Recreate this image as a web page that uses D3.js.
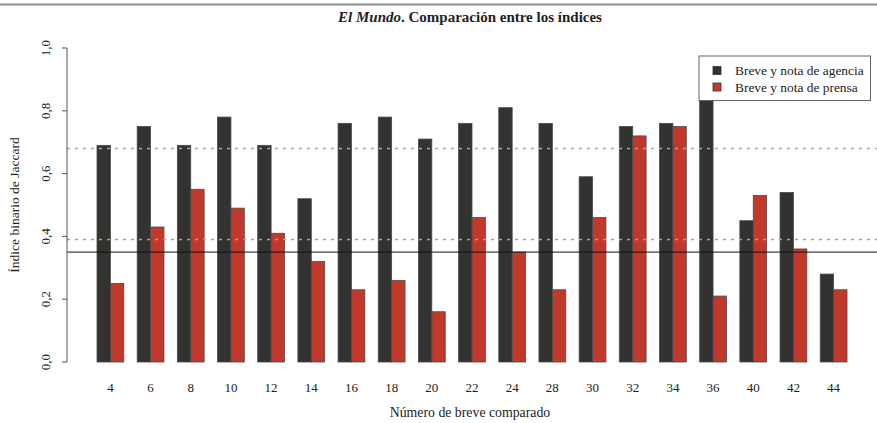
<!DOCTYPE html>
<html><head><meta charset="utf-8">
<script src="https://cdn.jsdelivr.net/npm/d3@7"></script>
<style>body{margin:0;background:#fff}svg{display:block}text{font-family:"Liberation Serif","DejaVu Serif",serif;fill:#222}</style>
</head><body>
<svg id="c" width="877" height="423"></svg>
<script>
const categories = ["4","6","8","10","12","14","16","18","20","22","24","28","30","32","34","36","40","42","44"];
const agencia = [0.69,0.75,0.69,0.78,0.69,0.52,0.76,0.78,0.71,0.76,0.81,0.76,0.59,0.75,0.76,0.86,0.45,0.54,0.28];
const prensa  = [0.25,0.43,0.55,0.49,0.41,0.32,0.23,0.26,0.16,0.46,0.35,0.23,0.46,0.72,0.75,0.21,0.53,0.36,0.23];
const seriesNames = ["Breve y nota de agencia","Breve y nota de prensa"];
const yTicks = [0,0.2,0.4,0.6,0.8,1.0];
const refLines = [{v:0.68,type:"gray"},{v:0.39,type:"red"},{v:0.35,type:"black"}];

const svg = d3.select("#c");
const colors = ["#323230","#c1392a"];
const L = 67, R = 877, T = 48, B = 362;
const nG = categories.length;
const uMin = 1, uMax = 3*nG;
const ext = (uMax-uMin)*0.04;
const x = d3.scaleLinear().domain([uMin-ext, uMax+ext]).range([L, R]);
const y = d3.scaleLinear().domain([0,1]).range([B, T]);

svg.append("line").attr("x1",0).attr("x2",877).attr("y1",4.5).attr("y2",4.5).attr("stroke","#8a8a8a").attr("stroke-width",2);

const title = svg.append("text").attr("x",470).attr("y",22).attr("text-anchor","middle").style("font-size","15px").style("font-weight","bold");
title.append("tspan").style("font-style","italic").text("El Mundo");
title.append("tspan").text(". Comparación entre los índices");

const g = svg.append("g");
categories.forEach((c,i)=>{
  const u0 = 1 + 3*i;
  [agencia[i],prensa[i]].forEach((v,j)=>{
    g.append("rect")
      .attr("x", x(u0+j)).attr("width", x(u0+j+1)-x(u0+j))
      .attr("y", y(v)).attr("height", y(0)-y(v))
      .attr("fill", colors[j]).attr("stroke","#4a4a48").attr("stroke-width",0.8);
  });
  svg.append("text").attr("x", x(u0+1)).attr("y", 392).attr("text-anchor","middle").style("font-size","13px").text(c);
});

refLines.forEach(r=>{
  const ln = svg.append("line").attr("x1",L).attr("x2",R).attr("y1",y(r.v)).attr("y2",y(r.v));
  if(r.type==="gray") ln.attr("stroke","#a8a8a8").attr("stroke-width",1.5).attr("stroke-dasharray","3,5");
  else if(r.type==="red") ln.attr("stroke","#e4887c").attr("stroke-width",1.5).attr("stroke-dasharray","3,5");
  else ln.attr("stroke","#111").attr("stroke-width",1);
});

const ya = svg.append("g").attr("transform",`translate(${L},0)`);
ya.append("line").attr("y1",y(0)).attr("y2",y(1)).attr("stroke","#555");
yTicks.forEach(t=>{
  ya.append("line").attr("x1",0).attr("x2",-5).attr("y1",y(t)).attr("y2",y(t)).attr("stroke","#555");
  ya.append("text").attr("transform",`translate(-17,${y(t)}) rotate(-90)`).attr("text-anchor","middle")
    .style("font-size","13px").text(d3.format(".1f")(t).replace(".",","));
});
svg.append("text").attr("transform",`translate(19,${(T+B)/2}) rotate(-90)`).attr("text-anchor","middle").style("font-size","13.5px").text("Índice binario de Jaccard");

svg.append("text").attr("x",470).attr("y",417).attr("text-anchor","middle").style("font-size","13.8px").text("Número de breve comparado");

const lg = svg.append("g");
lg.append("rect").attr("x",699).attr("y",56).attr("width",171.5).attr("height",44.5).attr("fill","#fff").attr("stroke","#666");
seriesNames.forEach((n,i)=>{
  const yy = 70.5 + i*16.5;
  lg.append("rect").attr("x",713).attr("y",yy-4).attr("width",8).attr("height",8).attr("fill",colors[i]).attr("stroke","#333").attr("stroke-width",0.8);
  lg.append("text").attr("x",735).attr("y",yy+4.5).style("font-size","13.4px").text(n);
});
</script>
</body></html>
